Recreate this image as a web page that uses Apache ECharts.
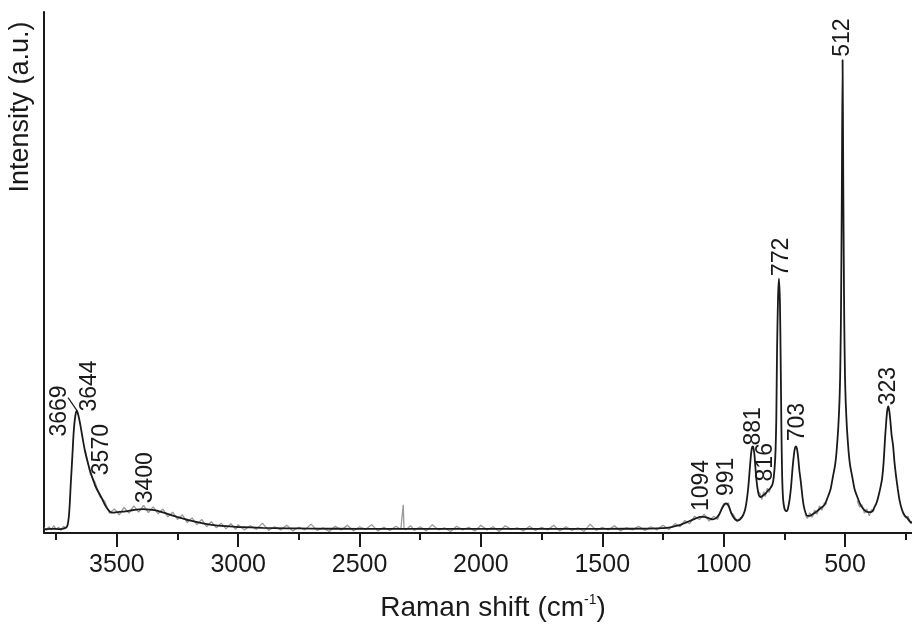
<!DOCTYPE html>
<html>
<head>
<meta charset="utf-8">
<script src="https://cdn.jsdelivr.net/npm/echarts@6/dist/echarts.min.js"></script>
<style>
  html, body { margin: 0; padding: 0; background: #fff; }
  #chart { width: 912px; height: 627px; }
</style>
</head>
<body>
<div id="chart"></div>
<script>
// ---- Data ----
// Fitted spectrum (black): Raman shift (cm-1) and intensity (a.u.)
const fitShift = [3800,3770,3740,3720,3710,3703,3698,3694,3690,3686,3682,3678,3673,3668,3664,3660,3652,3642,3631,3620,3610,3600,3590,3580,3569,3559,3549,3538,3528,3515,3500,3475,3446,3420,3392,3365,3335,3300,3252,3200,3150,3100,3050,3000,2900,2800,2700,2500,2000,1500,1300,1250,1220,1200,1170,1140,1115,1095,1080,1060,1045,1030,1018,1008,1000,992,985,978,970,962,952,942,932,920,912,905,898,892,887,883,880,877,873,869,865,860,855,850,843,835,825,816,808,800,795,790,786,783,780,776,772,768,765,762,759,755,750,745,739,735,728,722,716,710,706,702,698,693,688,682,676,670,662,655,645,630,615,600,584,570,559,549,541,535,528,523,520,517,515,513,510,507,505,503,500,497,492,485,479,471,461,450,436,420,405,395,385,380,370,360,352,347,341,335,330,326,322,318,313,308,302,296,290,283,275,265,255,244,234,224];
const fitIntensity = [0.75,0.8,0.75,0.85,1.0,1.5,3.0,5.5,9.2,12.4,15.8,19.2,21.8,23.2,23.5,22.9,21.2,18.5,15.7,13.6,11.9,10.5,9.2,8.2,7.3,6.4,5.4,4.6,4.1,3.9,4.0,4.1,4.3,4.5,4.6,4.5,4.3,3.8,3.1,2.4,1.9,1.5,1.3,1.15,1.0,0.9,0.85,0.8,0.8,0.8,0.85,0.95,1.1,1.3,1.7,2.3,2.8,3.1,3.1,2.8,2.6,2.9,3.6,4.6,5.3,5.7,5.6,5.0,4.0,3.2,2.6,2.4,2.6,3.4,4.4,6.2,9.0,12.5,15.2,16.4,16.6,16.3,15.0,12.5,10.3,8.4,7.3,6.9,7.0,7.3,7.7,8.2,8.6,9.2,10.2,12.5,16.0,22.0,35.0,45.0,48.8,44.0,33.0,20.0,11.0,6.5,4.8,4.3,4.2,4.7,6.5,9.0,12.5,15.2,16.3,16.6,16.2,14.5,12.0,9.8,7.2,5.2,3.8,3.3,3.3,3.7,4.2,4.8,5.4,7.0,8.5,11.0,13.0,15.5,20.0,25.0,30.0,40.0,52.0,66.0,90.8,66.0,52.0,40.0,30.0,25.0,20.0,15.5,13.0,11.0,8.5,7.0,5.4,4.4,4.0,4.0,4.3,4.8,5.8,7.5,9.2,10.5,13.5,18.2,21.5,23.5,24.3,23.6,21.5,18.8,16.8,13.5,11.0,8.6,6.2,4.4,3.4,2.9,2.3,1.9];

// Raw measured spectrum (grey, noisy); null = gap where it hides under the fit
const rawShift = [3800,3790,3780,3770,3760,3750,3740,3730,3720,3710,3705,
  3630,3610,3590,3570,3550,3530,3510,3490,3470,3450,3430,3410,3390,3370,3350,3330,3310,3290,3270,3250,3230,3210,3190,3170,3150,3130,3110,3090,3070,3050,3030,3010,
  3000,2975,2950,2925,2900,2875,2850,2825,2800,2775,2750,2725,2700,2675,2650,2625,2600,2575,2550,2525,2500,2475,2450,2425,2400,2375,2350,2330,2323,2320,2317,2310,2290,2275,2250,2225,2200,2175,2150,2125,2100,2075,2050,2025,2000,1975,1950,1925,1900,1875,1850,1825,1800,1775,1750,1725,1700,1675,1650,1625,1600,1575,1550,1525,1500,1475,1450,1425,1400,1375,1350,1325,1300,1275,1250,1225,1200,1180,1160,1140,1120,1100,1080,1060,1040,1025,1010,1000,990,980,970,960,945,930,920,915,
  860,850,843,835,828,820,812,805,800,
  665,655,645,635,625,615,605,595,585,575,570,
  450,440,430,420,410,400,390,380,375,
  262,250,240,230,224];
const rawIntensity = [1.0,0.5,1.2,0.6,1.4,0.7,1.1,0.5,1.3,0.9,null,
  15.9,11.4,9.8,7.0,6.1,3.8,4.6,3.5,4.9,3.8,5.2,4.0,5.3,3.9,5.0,3.7,4.6,3.1,4.0,2.6,3.5,2.0,2.9,1.6,2.6,1.2,2.2,1.0,1.9,0.8,1.8,0.7,
  1.6,0.6,1.4,0.7,1.9,0.5,1.2,0.6,1.5,0.4,1.1,0.6,1.7,0.5,1.0,0.3,1.3,0.6,1.5,0.4,1.2,0.7,1.6,0.4,1.1,0.5,1.3,0.7,1.0,5.4,1.0,0.6,1.4,0.5,1.2,0.4,1.6,0.6,1.0,0.3,1.3,0.6,1.1,0.4,1.5,0.6,1.2,0.3,1.4,0.7,1.0,0.4,1.3,0.5,1.1,0.6,1.5,0.4,1.2,0.5,1.0,0.3,1.7,0.5,1.1,0.6,1.4,0.4,1.0,0.6,1.3,0.5,1.2,0.6,1.5,0.7,1.8,1.2,2.4,1.8,3.2,2.6,3.6,2.3,3.2,2.6,4.6,5.6,5.4,5.8,3.8,3.6,2.2,3.0,3.2,null,
  8.0,7.6,6.4,7.9,7.0,8.6,7.8,9.0,null,
  3.6,2.8,3.9,3.0,4.4,3.6,5.2,4.4,5.8,5.6,null,
  6.2,5.0,5.4,3.8,4.6,3.3,4.5,4.2,null,
  3.9,2.9,3.2,1.8,2.3];

// Peak annotations: text, position of the label foot (shift, intensity)
const peakText = ['3669','3644','3570','3400','1094','991','881','816','772','703','512','323'];
const peakShift = [3734,3610,3561,3380,1089,986,875,825,761,697,508,322];
const peakFoot = [18.5,23.3,11.1,5.7,4.2,7.1,16.8,9.9,49.3,17.6,91.4,24.5];
// Leader line from the "3669" label to the band
const leaderShift = [3701,3664];
const leaderIntensity = [26.0,23.5];

// Axis ticks
const majorTicks = [500,1000,1500,2000,2500,3000,3500];
const minorTicks = [250,750,1250,1750,2250,2750,3250,3750];

// ---- Chart ----
const FONT = '"Liberation Sans", Arial, Helvetica, sans-serif';
const INK = '#1a1a1a';
const chart = echarts.init(document.getElementById('chart'), null, { renderer: 'canvas' });

const fitData = fitShift.map((x, i) => [x, fitIntensity[i]]);
const rawData = rawShift.map((x, i) => [x, rawIntensity[i] === null ? '-' : rawIntensity[i]]);
const labelData = peakText.map((t, i) => ({ name: t, value: [peakShift[i], peakFoot[i]] }));
const leaderData = leaderShift.map((x, i) => [x, leaderIntensity[i]]);

const xCommon = { type: 'value', min: 224, max: 3800, inverse: true, gridIndex: 0, splitLine: { show: false } };

chart.setOption({
  animation: false,
  backgroundColor: '#ffffff',
  grid: { left: 44, right: 0, top: 12, bottom: 92, containLabel: false },
  xAxis: [
    Object.assign({}, xCommon, {
      position: 'bottom',
      axisLine: { show: true, onZero: false, lineStyle: { color: INK, width: 2 } },
      axisTick: { show: true, inside: false, length: 14, customValues: majorTicks, lineStyle: { color: INK, width: 2 } },
      axisLabel: { show: true, customValues: majorTicks, margin: 20, fontSize: 25, color: INK, fontFamily: FONT,
                   formatter: (v) => String(v) },
      name: '{a|Raman shift (cm}{s|-1}{a|)}',
      nameLocation: 'middle',
      nameGap: 60,
      nameTextStyle: {
        padding: [0, 0, 0, 30],
        rich: {
          a: { fontSize: 28, fontFamily: FONT, color: INK, lineHeight: 30, verticalAlign: 'middle' },
          s: { fontSize: 14, fontFamily: FONT, color: INK, lineHeight: 12, verticalAlign: 'top' }
        }
      }
    }),
    Object.assign({}, xCommon, {
      position: 'bottom',
      axisLine: { show: false, onZero: false },
      axisTick: { show: true, inside: false, length: 7, customValues: minorTicks, lineStyle: { color: INK, width: 2 } },
      axisLabel: { show: false }
    })
  ],
  yAxis: {
    type: 'value', min: 0, max: 100,
    axisLine: { show: true, onZero: false, lineStyle: { color: INK, width: 2 } },
    axisTick: { show: false },
    axisLabel: { show: false },
    splitLine: { show: false }
  },
  graphic: [{
    type: 'text',
    x: 21, y: 107,
    rotation: Math.PI / 2,
    style: { text: 'Intensity (a.u.)', font: '27px ' + FONT, fill: INK, align: 'center', verticalAlign: 'middle' }
  }],
  series: [
    {
      type: 'line', name: 'raw', xAxisIndex: 0, data: rawData, showSymbol: false, symbol: 'none',
      connectNulls: false, z: 1,
      lineStyle: { color: '#9a9a9a', width: 1.3 }
    },
    {
      type: 'line', name: 'fit', xAxisIndex: 0, data: fitData, showSymbol: false, symbol: 'none',
      smooth: 0.2, z: 3,
      lineStyle: { color: INK, width: 1.8 }
    },
    {
      type: 'line', name: 'leader', xAxisIndex: 0, data: leaderData, showSymbol: false, symbol: 'none', z: 3,
      lineStyle: { color: INK, width: 1.2 }
    },
    {
      type: 'scatter', name: 'peaks', xAxisIndex: 0, data: labelData, symbolSize: 0, z: 4,
      itemStyle: { opacity: 1 },
      label: {
        show: true, formatter: '{b}', position: 'top', distance: 0,
        rotate: 90, align: 'left', verticalAlign: 'middle',
        fontSize: 23, fontFamily: FONT, color: INK, opacity: 1
      }
    }
  ]
});
</script>
</body>
</html>
